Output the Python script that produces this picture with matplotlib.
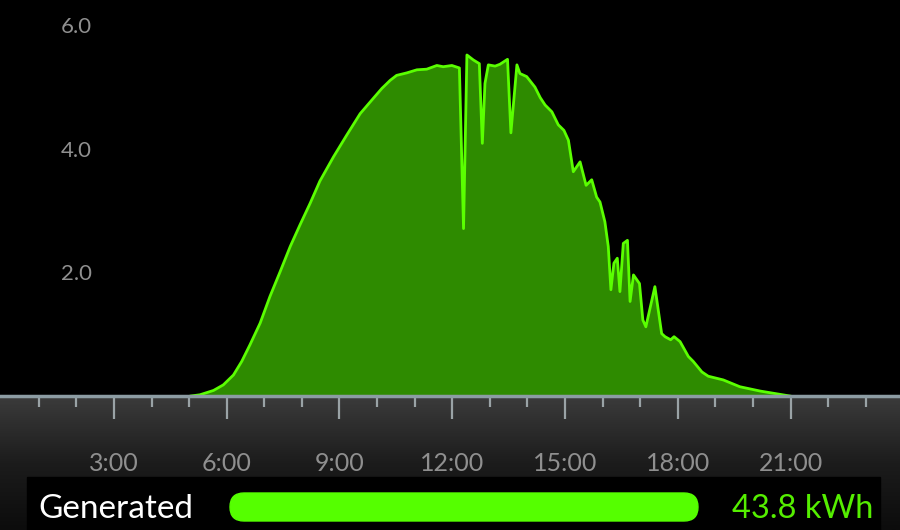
import numpy as np
import matplotlib as mpl
mpl.use('Agg')
from matplotlib import pyplot as plt
from matplotlib.patches import Rectangle, FancyBboxPatch

# generation curve, hour of day vs kW
hours = [5.05, 5.29, 5.65, 5.91, 6.18, 6.40, 6.62, 6.89, 7.15, 7.42, 7.69,
         7.95, 8.22, 8.48, 8.84, 9.19, 9.55, 9.86, 10.13, 10.35, 10.52,
         10.79, 11.06, 11.32, 11.59, 11.76, 11.99, 12.19, 12.30, 12.39, 12.56,
         12.72, 12.80, 12.87, 12.96, 13.14, 13.27, 13.47, 13.56, 13.72, 13.80,
         13.98, 14.20, 14.34, 14.47, 14.65, 14.82, 14.97, 15.09, 15.22, 15.40,
         15.56, 15.71, 15.84, 15.93, 16.06, 16.15, 16.22, 16.30, 16.39, 16.46,
         16.55, 16.66, 16.73, 16.82, 16.98, 17.07, 17.15, 17.39, 17.57, 17.66,
         17.81, 17.90, 18.06, 18.28, 18.41, 18.64, 18.81, 19.21, 19.65, 20.19,
         20.98]
kw = [0.0, 0.02, 0.09, 0.18, 0.34, 0.56, 0.83, 1.18, 1.61, 2.01, 2.42,
      2.77, 3.12, 3.48, 3.87, 4.22, 4.57, 4.79, 4.98, 5.11, 5.19,
      5.23, 5.28, 5.29, 5.35, 5.33, 5.35, 5.31, 2.71, 5.52, 5.44,
      5.38, 4.09, 5.06, 5.36, 5.34, 5.37, 5.45, 4.26, 5.36, 5.22,
      5.17, 5.00, 4.83, 4.71, 4.60, 4.39, 4.30, 4.14, 3.63, 3.79,
      3.41, 3.50, 3.22, 3.14, 2.82, 2.42, 1.72, 2.15, 2.23, 1.69,
      2.47, 2.52, 1.53, 1.96, 1.82, 1.23, 1.12, 1.77, 1.01, 0.96,
      0.91, 0.96, 0.88, 0.64, 0.56, 0.39, 0.32, 0.26, 0.15, 0.08,
      0.0]

y_ticks = [2.0, 4.0, 6.0]
x_ticks = [3, 6, 9, 12, 15, 18, 21]
x_labels = ["3:00", "6:00", "9:00", "12:00", "15:00", "18:00", "21:00"]
total_label = "43.8 kWh"

W, H = 900, 530
fig = plt.figure(figsize=(W / 100, H / 100), dpi=100)
fig.patch.set_facecolor('black')
plt.rcParams['font.family'] = ['Lato', 'DejaVu Sans']

# background: grey gradient band under the chart, black legend strip
bg = fig.add_axes([0, 0, 1, 1])
bg.set_xlim(0, W)
bg.set_ylim(H, 0)
bg.axis('off')
grad = np.linspace(0, 1, 100).reshape(-1, 1)
cmap = mpl.colors.LinearSegmentedColormap.from_list('band', ['#3b3b3b', '#1c1c1c', '#0c0c0c'])
bg.imshow(grad, cmap=cmap, extent=[0, W, H, 396], aspect='auto', zorder=0)
bg.add_patch(Rectangle((27, 477), 853, 60, color='black', zorder=1))
bg.add_patch(FancyBboxPatch((230, 493), 468, 28, boxstyle="round,pad=0,rounding_size=14",
                            color='#55ff00', zorder=2, mutation_aspect=1))
bg.text(38, 509, "Generated", color='white', fontsize=24, va='center', ha='left', zorder=3)
bg.text(873, 509, total_label, color='#55ee00', fontsize=23.5, va='center', ha='right', zorder=3)

# main chart
ax = fig.add_axes([0, (H - 396) / H, 1, 396 / H])
ax.set_facecolor('black')
ax.fill_between(hours, kw, 0, color='#2e8b00', lw=0)
ax.plot(hours, kw, color='#5aff00', lw=2)
ax.set_xlim(-0.03, 23.91)
ax.set_ylim(0, 6.41)

for s in ['top', 'left', 'right']:
    ax.spines[s].set_visible(False)
ax.spines['bottom'].set_color('#8c9ca3')
ax.spines['bottom'].set_linewidth(2.5)

ax.set_yticks([])
ax.set_xticks(x_ticks)
ax.set_xticklabels(x_labels)
ax.set_xticks(np.arange(1, 24), minor=True)
ax.tick_params(axis='x', which='major', length=16.5, width=1.6, color='#9aa3a6',
               labelcolor='#8f8f8f', labelsize=18, pad=23.5)
ax.tick_params(axis='x', which='minor', length=8, width=1.6, color='#9aa3a6')

for v in y_ticks:
    ax.text(2.0, v - 0.03, "%.1f" % v, color='#8f8f8f', fontsize=16, ha='center', va='center')

fig.savefig('out.png', dpi=100, facecolor='black')
